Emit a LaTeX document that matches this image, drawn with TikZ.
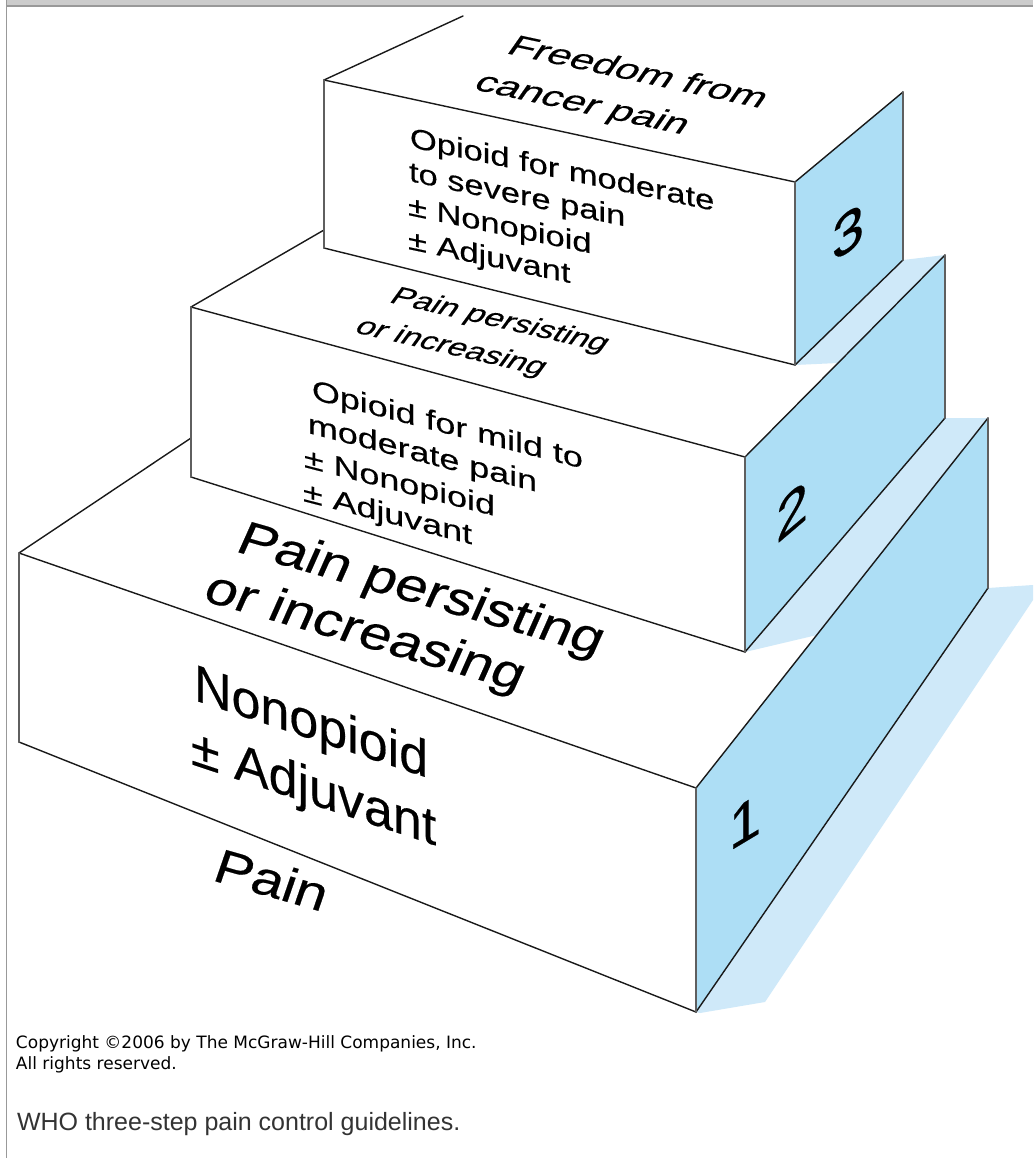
\documentclass[tikz,border=0pt]{standalone}
\usepackage{fontspec}
\setmainfont{Liberation Sans}
\newfontfamily\facefont[FakeBold=0.35]{Liberation Sans}
\newfontfamily\copyfont{DejaVu Sans}
\definecolor{faceblue}{RGB}{173,222,245}
\definecolor{shadowblue}{RGB}{207,233,249}
\definecolor{framegray}{RGB}{153,153,153}
\definecolor{bargray}{RGB}{204,204,204}
\definecolor{edgecol}{RGB}{25,25,25}
\definecolor{vedgecol}{RGB}{95,95,95}
\newcommand{\facetext}[9]{%
  \begin{scope}[shift={(#2,#3)},cm={#4,#5,#6,#7,(0,0)}]
    \node[facelabel,font=#8] (#1) at (0,0) {#9};
  \end{scope}}
\newcommand{\smallfnt}{\facefont\fontsize{28}{34}\selectfont}
\newcommand{\topfnt}{\facefont\fontsize{32}{38}\selectfont}
\newcommand{\bigfnt}{\facefont\fontsize{52}{60}\selectfont}
\newcommand{\bigtopfnt}{\facefont\fontsize{48}{56}\selectfont}
\newcommand{\digitfnt}{\facefont\fontsize{58}{66}\selectfont}
\begin{document}
\begin{tikzpicture}[x=1pt,y=-1pt,
  edge/.style={draw=edgecol,line width=1.4pt,line cap=round},
  vedge/.style={draw=vedgecol,line width=2pt,line cap=round},
  facelabel/.style={inner sep=0pt,outer sep=0pt,anchor=base west,transform shape,text=black},
  digitlabel/.style={inner sep=0pt,outer sep=0pt,anchor=center,transform shape,font=\digitfnt,text=black},
  notelabel/.style={inner sep=0pt,outer sep=0pt,anchor=base west}]
\useasboundingbox (0,0) rectangle (1033,1158);
\fill[white] (0,0) rectangle (1033,1158);
% frame
\fill[bargray] (7.3,0) rectangle (1033,5.3);
\fill[framegray] (7.3,5.3) rectangle (1033,7.3);
\fill[framegray] (5.7,0) rectangle (7.3,1158);
% block corners
\coordinate (A1) at (19,553);  \coordinate (B1) at (19,742);
\coordinate (C1) at (696,1012); \coordinate (D1) at (696,788);
\coordinate (E1) at (988,418); \coordinate (F1) at (988,588);
\coordinate (G1) at (191,438);
\coordinate (A2) at (191,307); \coordinate (B2) at (191,477);
\coordinate (C2) at (745,652); \coordinate (D2) at (745,457);
\coordinate (E2) at (945,255); \coordinate (F2) at (945,418);
\coordinate (G2) at (324,230);
\coordinate (A3) at (324,80);  \coordinate (B3) at (324,248);
\coordinate (C3) at (795,365); \coordinate (D3) at (795,182);
\coordinate (E3) at (903,92);  \coordinate (F3) at (903,260);
\coordinate (G3) at (463,16);
% ground shadow
\fill[shadowblue] (C1) -- (F1) -- (1033,585) -- (1033,600) -- (765,1002) -- (700,1013) -- cycle;
% block 1
\fill[white] (A1) -- (B1) -- (C1) -- (D1) -- cycle;
\fill[faceblue] (D1) -- (E1) -- (F1) -- (C1) -- cycle;
\fill[shadowblue] (C2) -- (F2) -- (E1) -- (817,635) -- cycle;
\draw[edge] (A1) -- (G1);
\draw[edge] (A1) -- (D1) -- (E1);
\draw[edge] (B1) -- (C1) -- (F1);
\draw[vedge] (A1) -- (B1);
\draw[vedge] (D1) -- (C1);
\draw[vedge] (E1) -- (F1);
% block 2
\fill[white] (A2) -- (B2) -- (C2) -- (D2) -- cycle;
\fill[faceblue] (D2) -- (E2) -- (F2) -- (C2) -- cycle;
\fill[shadowblue] (C3) -- (F3) -- (E2) -- (838,363) -- cycle;
\draw[edge] (A2) -- (G2);
\draw[edge] (A2) -- (D2) -- (E2);
\draw[edge] (B2) -- (C2) -- (F2);
\draw[vedge] (A2) -- (B2);
\draw[vedge] (D2) -- (C2);
\draw[vedge] (E2) -- (F2);
% block 3
\fill[white] (A3) -- (B3) -- (C3) -- (D3) -- cycle;
\fill[faceblue] (D3) -- (E3) -- (F3) -- (C3) -- cycle;
\draw[edge] (A3) -- (G3);
\draw[edge] (A3) -- (D3) -- (E3);
\draw[edge] (B3) -- (C3) -- (F3);
\draw[vedge] (A3) -- (B3);
\draw[vedge] (D3) -- (C3);
\draw[vedge] (E3) -- (F3);
% block 3 texts
\facetext{free1}{505}{53}{1.270}{-0.274}{0.574}{0.819}{\topfnt}{Freedom from}
\facetext{free2}{472}{89}{1.270}{-0.274}{0.574}{0.819}{\topfnt}{cancer pain}
\facetext{s3a}{410}{147}{1.23}{-0.258}{0}{1}{\smallfnt}{Opioid for moderate}
\facetext{s3b}{409}{181}{1.23}{-0.258}{0}{1}{\smallfnt}{to severe pain}
\facetext{s3c}{408}{215}{1.23}{-0.258}{0}{1}{\smallfnt}{± Nonopioid}
\facetext{s3d}{408}{249}{1.23}{-0.258}{0}{1}{\smallfnt}{± Adjuvant}
% block 2 texts
\facetext{pp2a}{388}{302}{1.169}{-0.270}{0.588}{0.809}{\smallfnt}{Pain persisting}
\facetext{pp2b}{353}{332}{1.169}{-0.270}{0.588}{0.809}{\smallfnt}{or increasing}
\facetext{s2a}{312}{399}{1.28}{-0.329}{0}{1}{\smallfnt}{Opioid for mild to}
\facetext{s2b}{308}{433}{1.28}{-0.329}{0}{1}{\smallfnt}{moderate pain}
\facetext{s2c}{304}{467}{1.28}{-0.329}{0}{1}{\smallfnt}{± Nonopioid}
\facetext{s2d}{303}{501}{1.28}{-0.329}{0}{1}{\smallfnt}{± Adjuvant}
% block 1 texts
\facetext{pp1a}{234}{551}{1.153}{-0.331}{0.407}{0.914}{\bigtopfnt}{Pain persisting}
\facetext{pp1b}{201}{600}{1.153}{-0.331}{0.407}{0.914}{\bigtopfnt}{or increasing}
\facetext{s1a}{194}{700}{1}{-0.333}{0}{1}{\bigfnt}{Nonopioid}
\facetext{s1b}{191}{764}{1}{-0.333}{0}{1}{\bigfnt}{± Adjuvant}
\facetext{pain}{211}{880}{1.153}{-0.331}{0.326}{0.946}{\bigtopfnt}{Pain}
% step numbers
\begin{scope}[shift={(848,232)},cm={1,0.7,0,1,(0,0)}]
  \node[digitlabel] (n3) at (0,0) {3};
\end{scope}
\begin{scope}[shift={(792,511)},cm={1,0.85,0,1,(0,0)}]
  \node[digitlabel] (n2) at (0,0) {2};
\end{scope}
\begin{scope}[shift={(745,822)},cm={1,0.6,0,1,(0,0)}]
  \node[digitlabel] (n1) at (0,0) {1};
\end{scope}
% notes
\node[notelabel,font=\copyfont\fontsize{17}{21}\selectfont] (copy1) at (16,1048) {Copyright ©2006 by The McGraw-Hill Companies, Inc.};
\node[notelabel,font=\copyfont\fontsize{17}{21}\selectfont] (copy2) at (16,1069) {All rights reserved.};
\node[notelabel,font=\fontsize{25}{30}\selectfont,text=black!80] (caption) at (17,1130) {WHO three-step pain control guidelines.};
\end{tikzpicture}
\end{document}
